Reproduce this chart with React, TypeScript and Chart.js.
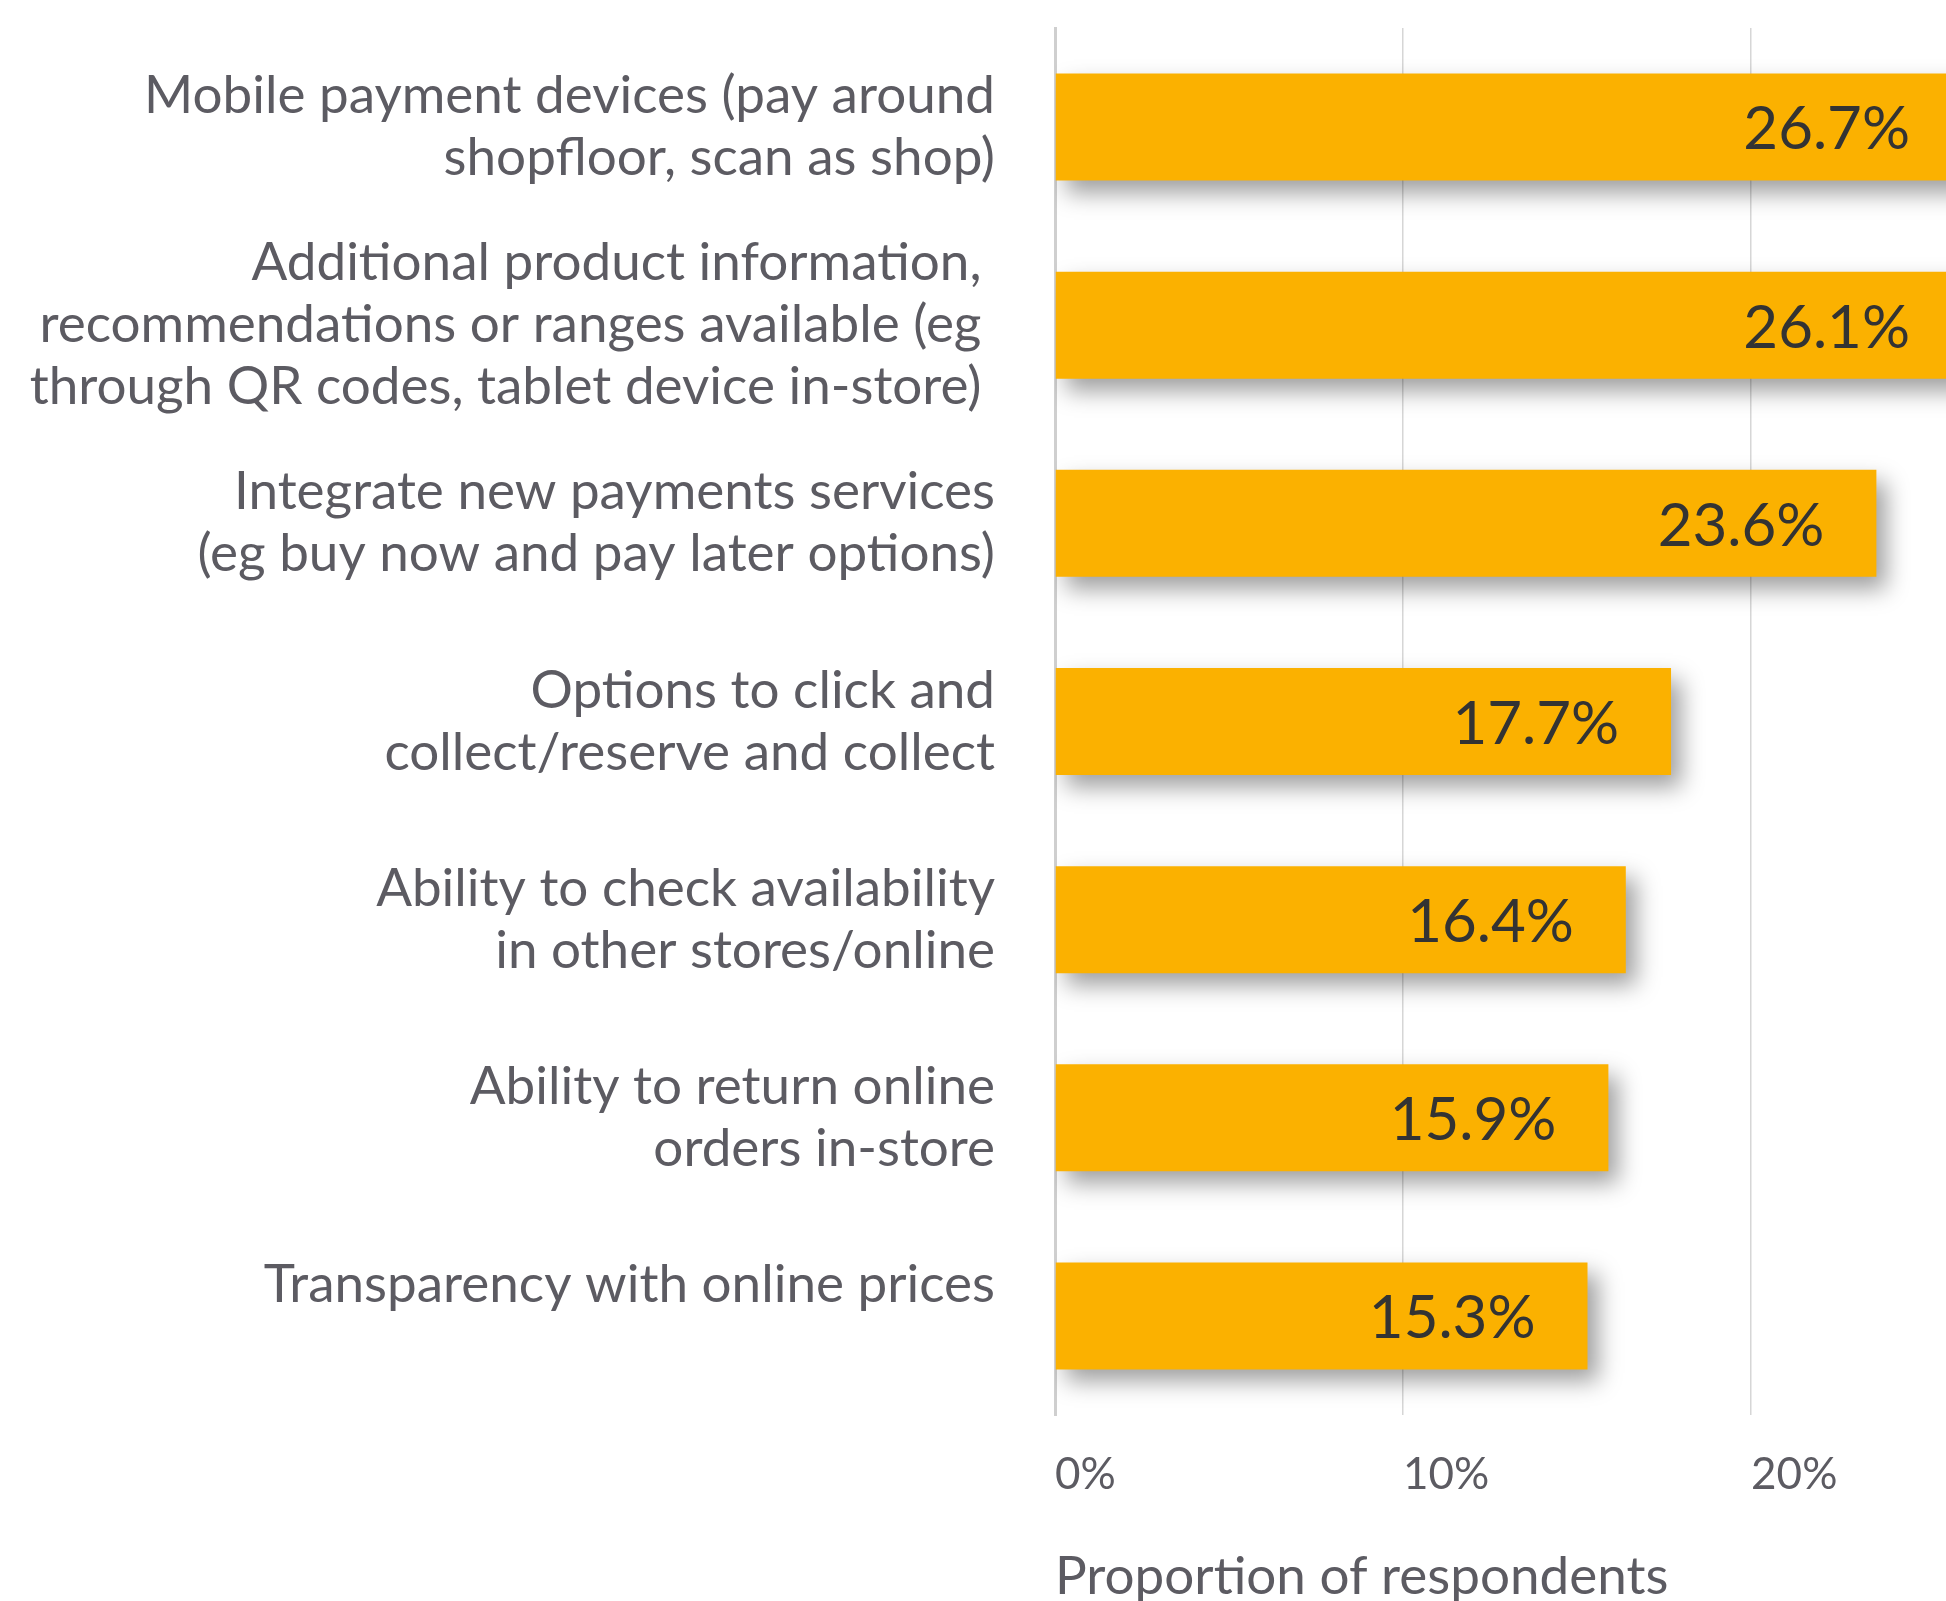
import React, { useEffect, useRef } from 'react';
import { Chart, registerables } from 'chart.js';

Chart.register(...registerables);

const categories: string[][] = [
  ['Mobile payment devices (pay around', 'shopfloor, scan as shop)'],
  ['Additional product information, ', 'recommendations or ranges available (eg ', 'through QR codes, tablet device in-store) '],
  ['Integrate new payments services', '(eg buy now and pay later options)'],
  ['Options to click and', 'collect/reserve and collect'],
  ['Ability to check availability', 'in other stores/online'],
  ['Ability to return online', 'orders in-store'],
  ['Transparency with online prices', ''],
];
const values: number[] = [26.7, 26.1, 23.6, 17.7, 16.4, 15.9, 15.3];
const tickValues: number[] = [0, 10, 20];
const axisTitle = 'Proportion of respondents';

const BAR_COLOR = '#FBB100';
const TEXT_GREY = '#5c5b62';
const LABEL_DARK = '#333333';
const FONT = 'Lato';

const shadowPlugin = {
  id: 'barShadow',
  beforeDatasetDraw(chart: any) {
    const ctx = chart.ctx;
    ctx.save();
    ctx.shadowColor = 'rgba(0,0,0,0.38)';
    ctx.shadowBlur = 22;
    ctx.shadowOffsetX = 10;
    ctx.shadowOffsetY = 12;
  },
  afterDatasetDraw(chart: any) {
    chart.ctx.restore();
  },
};

const valueLabelPlugin = {
  id: 'valueLabels',
  afterDatasetsDraw(chart: any) {
    const ctx = chart.ctx;
    const area = chart.chartArea;
    const meta = chart.getDatasetMeta(0);
    ctx.save();
    ctx.font = `60px ${FONT}`;
    ctx.fillStyle = LABEL_DARK;
    ctx.textAlign = 'right';
    ctx.textBaseline = 'middle';
    meta.data.forEach((bar: any, i: number) => {
      const x = Math.min(bar.x - 52, area.right - 36);
      ctx.fillText(values[i].toFixed(1) + '%', x, bar.y + 3);
    });
    ctx.restore();
  },
};

export default function App() {
  const canvasRef = useRef<HTMLCanvasElement | null>(null);

  useEffect(() => {
    if (!canvasRef.current) return;
    const chart = new Chart(canvasRef.current, {
      type: 'bar',
      data: {
        labels: categories,
        datasets: [
          {
            data: values,
            backgroundColor: BAR_COLOR,
            borderWidth: 0,
            categoryPercentage: 1,
            barPercentage: 0.54,
          },
        ],
      },
      options: {
        indexAxis: 'y',
        responsive: false,
        animation: false,
        devicePixelRatio: 1,
        layout: { padding: { top: 28, left: 0, right: 0, bottom: 0 } },
        plugins: {
          legend: { display: false },
          tooltip: { enabled: false },
        },
        scales: {
          x: {
            type: 'linear',
            min: 0,
            max: 25.6,
            afterBuildTicks: (scale: any) => {
              scale.ticks = tickValues.map((v) => ({ value: v }));
            },
            afterFit: (scale: any) => {
              scale.height = 186;
              scale.paddingLeft = 0;
              scale.paddingRight = 0;
            },
            grid: {
              display: true,
              color: '#d6d6d6',
              lineWidth: 1.5,
              drawTicks: false,
            },
            border: { display: false },
            ticks: {
              align: 'start',
              padding: 38,
              autoSkip: false,
              maxRotation: 0,
              color: TEXT_GREY,
              font: { family: FONT, size: 44, lineHeight: 1 },
              callback: (v: any) => v + '%',
            },
            title: {
              display: true,
              text: axisTitle,
              align: 'start',
              color: TEXT_GREY,
              font: { family: FONT, size: 53, lineHeight: 0.9 },
              padding: { top: 0, bottom: 0 },
            },
          },
          y: {
            type: 'category',
            afterFit: (scale: any) => {
              scale.width = 1055;
              scale.paddingTop = 0;
              scale.paddingBottom = 0;
            },
            grid: { display: false, drawTicks: false },
            border: { display: true, color: '#cfcfcf', width: 3 },
            ticks: {
              padding: 60,
              autoSkip: false,
              color: TEXT_GREY,
              font: { family: FONT, size: 53, lineHeight: '62px' as any },
            },
          },
        },
      },
      plugins: [shadowPlugin, valueLabelPlugin],
    });
    if ((document as any).fonts && (document as any).fonts.load) {
      (document as any).fonts.load(`53px ${FONT}`).then(() => chart.update()).catch(() => {});
    }
    return () => chart.destroy();
  }, []);

  return (
    <div style={{ position: 'absolute', left: 0, top: 0, width: 1946, height: 1601, background: '#ffffff' }}>
      <canvas ref={canvasRef} width={1946} height={1601} />
    </div>
  );
}
